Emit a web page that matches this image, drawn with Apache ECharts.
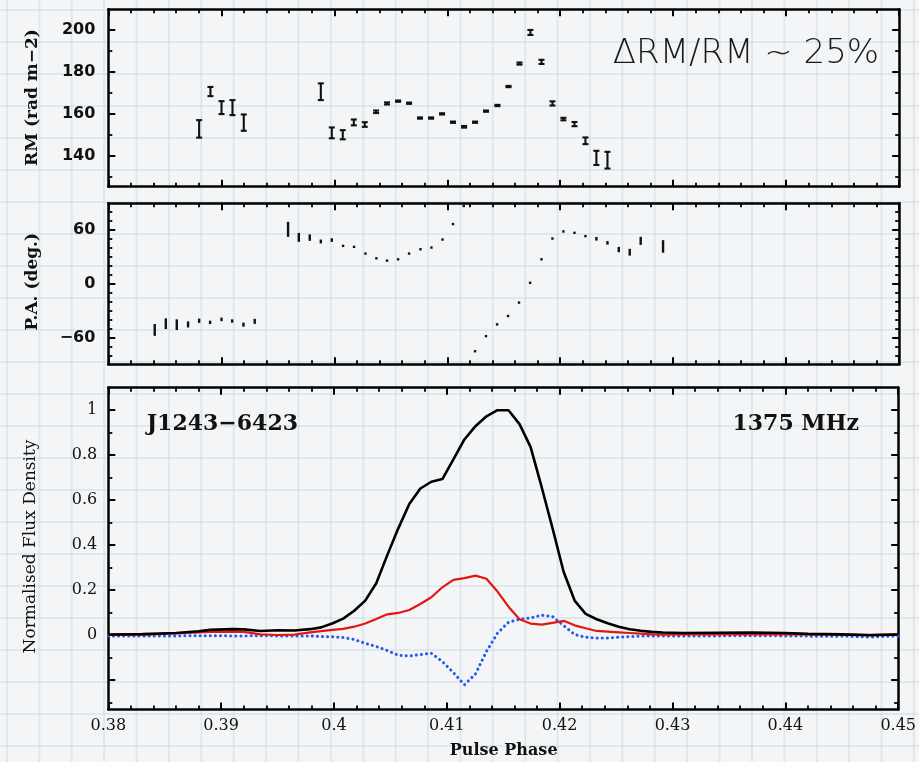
<!DOCTYPE html>
<html>
<head>
<meta charset="utf-8">
<script src="https://cdn.jsdelivr.net/npm/echarts@6/dist/echarts.min.js"></script>
<style>
  html, body { margin: 0; padding: 0; }
  body {
    width: 919px; height: 762px; overflow: hidden;
    background-color: #f4f5f6;
    background-image:
      linear-gradient(to right, rgba(190, 210, 222, 0.38) 0, rgba(190, 210, 222, 0.38) 2px, transparent 2px),
      linear-gradient(to bottom, rgba(190, 210, 222, 0.38) 0, rgba(190, 210, 222, 0.38) 2px, transparent 2px);
    background-size: 32.4px 32px;
    background-position: 6px 9px;
  }
  #chart { width: 919px; height: 762px; }
</style>
</head>
<body>
<div id="chart"></div>
<script>
// ---- Rotation measure across the pulse (rad m^-2) ----
const rmPhase = [0.38804, 0.38904, 0.39002, 0.39099, 0.39199, 0.39881, 0.39978, 0.40075, 0.40173, 0.40270,
                 0.40370, 0.40467, 0.40565, 0.40662, 0.40759, 0.40857, 0.40954, 0.41051, 0.41149, 0.41246,
                 0.41343, 0.41444, 0.41542, 0.41639, 0.41736, 0.41834, 0.41931, 0.42028, 0.42126, 0.42223,
                 0.42320, 0.42418];
const rmValue = [152.7, 170.6, 162.9, 162.9, 155.7, 170.5, 150.8, 149.9, 155.8, 154.8,
                 160.9, 164.9, 166.0, 165.0, 157.9, 157.9, 159.9, 155.9, 153.7, 155.9,
                 161.2, 163.9, 173.0, 184.0, 198.9, 184.8, 164.9, 157.4, 155.0, 147.0,
                 138.8, 137.7];
const rmError = [4.2, 2.2, 3.1, 3.6, 3.9, 4.0, 2.6, 2.2, 1.4, 1.1,
                 0.6, 0.5, 0.3, 0.3, 0.3, 0.3, 0.3, 0.3, 0.4, 0.3,
                 0.3, 0.3, 0.3, 0.5, 1.2, 1.0, 1.0, 0.6, 1.0, 1.6,
                 3.4, 4.0];

// ---- Position angle of linear polarisation (deg) ----
const paPhase = [0.38411, 0.38509, 0.38606, 0.38706, 0.38804, 0.38901, 0.39002, 0.39096, 0.39196, 0.39296,
                 0.39591, 0.39686, 0.39783, 0.39881, 0.39978, 0.40078, 0.40175, 0.40276, 0.40373, 0.40467,
                 0.40565, 0.40662, 0.40763, 0.40860, 0.40958, 0.41051, 0.41146, 0.41246, 0.41343, 0.41441,
                 0.41538, 0.41635, 0.41733, 0.41834, 0.41931, 0.42028, 0.42126, 0.42223, 0.42320, 0.42418,
                 0.42518, 0.42615, 0.42712, 0.42910];
const paValue = [-51.6, -44.6, -45.7, -45.4, -41.3, -43.1, -39.8, -41.6, -45.7, -42.0,
                 60.9, 51.9, 51.6, 47.3, 48.9, 42.4, 41.3, 33.8, 28.5, 25.9,
                 27.4, 33.8, 38.6, 40.5, 49.5, 66.8, 87.0, -75.4, -58.5, -45.4,
                 -36.0, -21.0, 1.1, 27.4, 50.6, 58.5, 57.0, 53.3, 50.3, 45.8,
                 38.3, 35.3, 48.0, 41.8];
const paError = [6.6, 6.0, 6.0, 3.4, 2.4, 1.9, 2.0, 1.9, 2.3, 2.8,
                 8.4, 5.0, 3.6, 2.2, 2.0, 1, 1, 1, 1, 1,
                 1, 1, 1, 1, 1, 1, 1, 1, 1, 1,
                 1, 1, 1, 1, 1, 1, 1, 1, 2, 2,
                 3, 3.8, 4.5, 7.0];

// ---- Polarisation profile: total (I), linear (L) and circular (V) ----
const profPhase = [0.3800, 0.3830, 0.3860, 0.3880, 0.3890, 0.3910, 0.3920, 0.3935, 0.3950, 0.3965,
                   0.397887, 0.398863, 0.399840, 0.400816, 0.401793, 0.402770, 0.403746, 0.404723, 0.405699, 0.406676,
                   0.407653, 0.408629, 0.409606, 0.410582, 0.411559, 0.412536, 0.413512, 0.414489, 0.415466, 0.416442,
                   0.417419, 0.418395, 0.419372, 0.420349, 0.421325, 0.422302, 0.423278, 0.424255, 0.425232, 0.426208,
                   0.427185, 0.428161, 0.429138,
                   0.4310, 0.4340, 0.4370, 0.4400, 0.4420, 0.4450, 0.4475, 0.4500];
const totalI = [0.003, 0.005, 0.010, 0.018, 0.024, 0.027, 0.026, 0.019, 0.022, 0.021,
                0.027, 0.035, 0.052, 0.074, 0.109, 0.154, 0.231, 0.356, 0.475, 0.583,
                0.652, 0.682, 0.694, 0.781, 0.870, 0.929, 0.973, 1.000, 1.000, 0.938,
                0.837, 0.660, 0.475, 0.282, 0.154, 0.095, 0.071, 0.053, 0.038, 0.027,
                0.020, 0.015, 0.012,
                0.010, 0.011, 0.012, 0.010, 0.006, 0.004, 0.000, 0.003];
const linearL = [0.002, 0.003, 0.008, 0.013, 0.015, 0.016, 0.015, 0.004, 0.001, 0.003,
                 0.013, 0.018, 0.024, 0.028, 0.038, 0.052, 0.072, 0.093, 0.099, 0.112,
                 0.139, 0.169, 0.213, 0.246, 0.254, 0.265, 0.251, 0.194, 0.127, 0.071,
                 0.052, 0.047, 0.055, 0.064, 0.044, 0.031, 0.019, 0.016, 0.013, 0.010,
                 0.007, 0.004, 0.003,
                 0.004, 0.004, 0.005, 0.004, 0.004, 0.003, 0.002, 0.005];
const circularV = [-0.003, -0.003, -0.003, -0.002, -0.002, -0.003, -0.003, -0.002, -0.003, -0.003,
                   -0.003, -0.006, -0.007, -0.010, -0.019, -0.036, -0.050, -0.068, -0.089, -0.092,
                   -0.086, -0.080, -0.117, -0.166, -0.220, -0.172, -0.072, 0.009, 0.058, 0.071,
                   0.077, 0.089, 0.083, 0.043, 0.003, -0.009, -0.012, -0.012, -0.009, -0.006,
                   -0.004, -0.003, -0.003,
                   -0.003, -0.003, -0.002, -0.003, -0.004, -0.004, -0.008, -0.003];

// ---- Tick positions ----
const rmMajorTicks = [140, 160, 180, 200];
const rmMinorTicks = [130, 150, 170, 190];
const paMajorTicks = [-60, 0, 60];
const paMinorTicks = [-80, -70, -50, -40, -30, -20, -10, 10, 20, 30, 40, 50, 70, 80];
const fluxMajorTicks = [-0.2, 0, 0.2, 0.4, 0.6, 0.8, 1];
const fluxLabelTicks = [0, 0.2, 0.4, 0.6, 0.8, 1];
const fluxMinorTicks = [-0.3, -0.1, 0.1, 0.3, 0.5, 0.7, 0.9];

const chart = echarts.init(document.getElementById('chart'), null, { renderer: 'canvas' });

const frameLine = { show: true, onZero: false, lineStyle: { color: '#000', width: 2.5 } };

function phaseAxes(gridIndex, withLabels) {
  const base = {
    type: 'value', gridIndex: gridIndex, min: 0.38, max: 0.45, interval: 0.01,
    axisLine: frameLine,
    axisTick: { show: true, inside: true, length: 7, lineStyle: { color: '#000', width: 2 } },
    minorTick: { show: true, splitNumber: 5, length: 4, lineStyle: { color: '#000', width: 1.8 } },
    splitLine: { show: false }
  };
  return [
    Object.assign({}, base, {
      position: 'bottom',
      axisLabel: withLabels
        ? { show: true, margin: 8, color: '#111', fontFamily: 'DejaVu Serif', fontSize: 16 }
        : { show: false }
    }),
    Object.assign({}, base, { position: 'top', axisLabel: { show: false } })
  ];
}

function valueAxes(gridIndex, min, max, major, minor, labelTicks, labelStyle, formatter) {
  const tickStyle = { color: '#000', width: 2 };
  return [
    { type: 'value', gridIndex, position: 'left', min, max, axisLine: frameLine,
      axisTick: { show: true, inside: true, length: 7, lineStyle: tickStyle, customValues: major },
      axisLabel: Object.assign({ show: true, customValues: labelTicks, formatter }, labelStyle),
      splitLine: { show: false } },
    { type: 'value', gridIndex, position: 'left', min, max, axisLine: { show: false },
      axisTick: { show: true, inside: true, length: 4, lineStyle: { color: '#000', width: 1.8 }, customValues: minor },
      axisLabel: { show: false }, splitLine: { show: false } },
    { type: 'value', gridIndex, position: 'right', min, max, axisLine: frameLine,
      axisTick: { show: true, inside: true, length: 7, lineStyle: tickStyle, customValues: major },
      axisLabel: { show: false }, splitLine: { show: false } },
    { type: 'value', gridIndex, position: 'right', min, max, axisLine: { show: false },
      axisTick: { show: true, inside: true, length: 4, lineStyle: { color: '#000', width: 1.8 }, customValues: minor },
      axisLabel: { show: false }, splitLine: { show: false } }
  ];
}

const minusFmt = v => (v < 0 ? '\u2212' + Math.abs(v) : String(v));

// I-beam error bars for RM
function renderRM(params, api) {
  const p = api.value(0), v = api.value(1), e = api.value(2);
  const lo = api.coord([p, v - e]);
  const hi = api.coord([p, v + e]);
  const x = lo[0], cap = 3;
  const style = { stroke: '#111', lineWidth: 2.1 };
  return {
    type: 'group',
    children: [
      { type: 'line', shape: { x1: x, y1: lo[1], x2: x, y2: hi[1] }, style },
      { type: 'line', shape: { x1: x - cap, y1: lo[1], x2: x + cap, y2: lo[1] }, style },
      { type: 'line', shape: { x1: x - cap, y1: hi[1], x2: x + cap, y2: hi[1] }, style }
    ]
  };
}

// plain vertical error bars for P.A.
function renderPA(params, api) {
  const p = api.value(0), v = api.value(1), e = api.value(2);
  const lo = api.coord([p, v - e]);
  const hi = api.coord([p, v + e]);
  let y1 = lo[1], y2 = hi[1];
  if (Math.abs(y1 - y2) < 2.4) { const m = (y1 + y2) / 2; y1 = m + 1.2; y2 = m - 1.2; }
  return {
    type: 'line',
    shape: { x1: lo[0], y1, x2: lo[0], y2 },
    style: { stroke: '#111', lineWidth: 2.4 }
  };
}

const option = {
  animation: false,
  backgroundColor: 'transparent',
  grid: [
    { left: 108.3, top: 9.3, width: 790.9, height: 177.4 },
    { left: 108.3, top: 203.3, width: 790.9, height: 161 },
    { left: 108.3, top: 387.7, width: 790.9, height: 321.8 }
  ],
  xAxis: [].concat(phaseAxes(0, false), phaseAxes(1, false), phaseAxes(2, true)),
  yAxis: [].concat(
    valueAxes(0, 125, 210, rmMajorTicks, rmMinorTicks, rmMajorTicks,
      { margin: 13, color: '#111', fontFamily: 'DejaVu Sans', fontWeight: 'bold', fontSize: 16 }, minusFmt),
    valueAxes(1, -90, 90, paMajorTicks, paMinorTicks, paMajorTicks,
      { margin: 13, color: '#111', fontFamily: 'DejaVu Sans', fontWeight: 'bold', fontSize: 16 }, minusFmt),
    valueAxes(2, -0.33, 1.1, fluxMajorTicks, fluxMinorTicks, fluxLabelTicks,
      { margin: 11, color: '#111', fontFamily: 'DejaVu Serif', fontSize: 16 }, v => String(v))
  ),
  series: [
    {
      type: 'custom', name: 'RM', xAxisIndex: 0, yAxisIndex: 0,
      renderItem: renderRM, encode: { x: 0, y: 1 },
      data: rmPhase.map((p, i) => [p, rmValue[i], rmError[i]])
    },
    {
      type: 'custom', name: 'PA', xAxisIndex: 2, yAxisIndex: 4,
      renderItem: renderPA, encode: { x: 0, y: 1 },
      data: paPhase.map((p, i) => [p, paValue[i], paError[i]])
    },
    {
      type: 'line', name: 'V', xAxisIndex: 4, yAxisIndex: 8, showSymbol: false, z: 2,
      lineStyle: { color: '#2458f2', width: 3, type: [0.1, 5], cap: 'round' },
      data: profPhase.map((p, i) => [p, circularV[i]])
    },
    {
      type: 'line', name: 'L', xAxisIndex: 4, yAxisIndex: 8, showSymbol: false, z: 3,
      lineStyle: { color: '#e3170f', width: 2.2 },
      data: profPhase.map((p, i) => [p, linearL[i]])
    },
    {
      type: 'line', name: 'I', xAxisIndex: 4, yAxisIndex: 8, showSymbol: false, z: 4,
      lineStyle: { color: '#000', width: 2.6 },
      data: profPhase.map((p, i) => [p, totalI[i]])
    }
  ],
  graphic: [
    { type: 'text', x: 33, y: 97.5, rotation: Math.PI / 2,
      style: { text: 'RM (rad m\u22122)', align: 'center', verticalAlign: 'middle',
               font: 'bold 17px "DejaVu Serif"', fill: '#111' } },
    { type: 'text', x: 33, y: 281.7, rotation: Math.PI / 2,
      style: { text: 'P.A. (deg.)', align: 'center', verticalAlign: 'middle',
               font: 'bold 17px "DejaVu Serif"', fill: '#111' } },
    { type: 'text', x: 31, y: 546.5, rotation: Math.PI / 2,
      style: { text: 'Normalised Flux Density', align: 'center', verticalAlign: 'middle',
               font: '17px "DejaVu Serif"', fill: '#111' } },
    { type: 'text', x: 503.7, y: 751,
      style: { text: 'Pulse Phase', align: 'center', verticalAlign: 'middle',
               font: 'bold 16px "DejaVu Serif"', fill: '#111' } },
    { type: 'text', x: 146.7, y: 424,
      style: { text: 'J1243\u22126423', align: 'left', verticalAlign: 'middle',
               font: 'bold 22px "DejaVu Serif"', fill: '#111' } },
    { type: 'text', x: 859, y: 424,
      style: { text: '1375 MHz', align: 'right', verticalAlign: 'middle',
               font: 'bold 22px "DejaVu Serif"', fill: '#111' } },
    { type: 'text', x: 746, y: 54,
      style: { text: '\u0394RM/RM ~ 25%', align: 'center', verticalAlign: 'middle',
               font: '200 34px "DejaVu Sans"', fill: '#1a1a1a' } }
  ]
};

chart.setOption(option);
</script>
</body>
</html>
